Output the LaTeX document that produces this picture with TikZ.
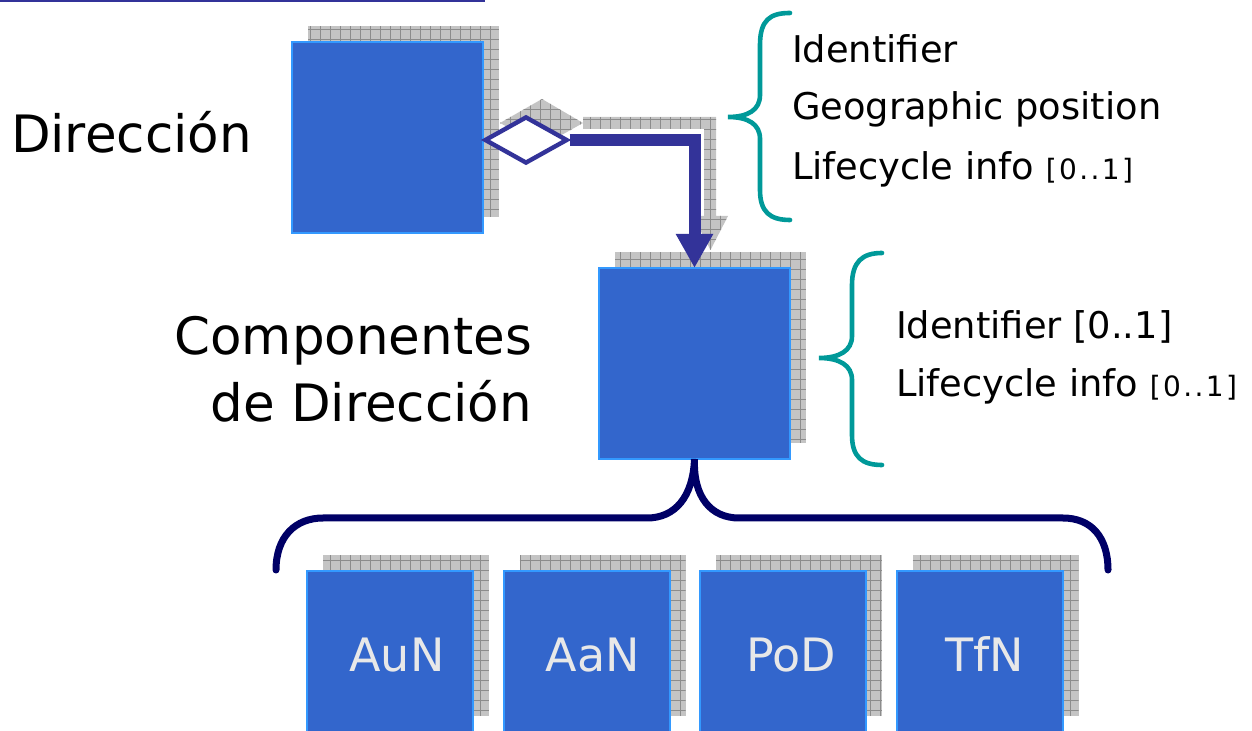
\documentclass[tikz,border=0pt]{standalone}
\usepackage{fontspec}
\setmainfont{DejaVu Sans}
\usetikzlibrary{arrows.meta,shapes.geometric,backgrounds}
\definecolor{boxfill}{HTML}{3366CC}
\definecolor{boxedge}{HTML}{3399FF}
\definecolor{arrowc}{HTML}{333399}
\definecolor{tealc}{HTML}{009999}
\definecolor{navyc}{HTML}{000066}
\definecolor{shgray}{HTML}{C4C4C4}
\definecolor{shline}{HTML}{8C8C8C}
\definecolor{lbltext}{HTML}{E8E8E8}
\newcommand\brk{\kern1.2pt}
\newcommand\smallrng{{\fontsize{14}{16}\selectfont[\brk0\brk.\brk.\brk1\brk]}}
\begin{document}
\begin{tikzpicture}[x=0.5pt,y=-0.5pt,
  bigbox/.style={draw=boxedge, fill=boxfill, line width=1pt, minimum width=95.5pt, minimum height=95.5pt, inner sep=0pt, outer sep=0pt},
  smallbox/.style={bigbox, minimum width=83pt, minimum height=80.5pt},
  shadowfill/.style={fill=shgray, path picture={\draw[shline, line width=0.5pt] (path picture bounding box.south west) grid[step=5pt] (path picture bounding box.north east);}},
  txt/.style={inner sep=0pt, outer sep=0pt, font=\fontsize{18.4}{22}\selectfont},
  bigtxt/.style={inner sep=0pt, outer sep=0pt, font=\fontsize{25.75}{33.5}\selectfont},
  boxtxt/.style={inner sep=0pt, outer sep=0pt, text=lbltext, font=\fontsize{23}{27}\selectfont},
  diamondnode/.style={shape=diamond, draw=arrowc, fill=white, line width=2.2pt, minimum width=41.5pt, minimum height=23.5pt, inner sep=0pt},
  conn/.style={draw=arrowc, line width=6pt, -{Triangle[width=17.5pt,length=17pt]}},
  tealbrace/.style={draw=tealc, line width=2.3pt, line cap=round},
  navybrace/.style={draw=navyc, line width=3.5pt, line cap=round},
  topline/.style={draw=arrowc, line width=1.2pt}
]
\useasboundingbox (0,0) rectangle (1252,731);
\clip (0,0) rectangle (1252,731);

\draw[topline] (0,1) -- (485,1);

% boxes
\node[bigbox] (dir) at (387.5,137.5) {};
\node[bigbox] (comp) at (694.5,363.5) {};
\node[smallbox] (aun) at (390,651.5) {};
\node[smallbox] (aan) at (586.5,651.5) {};
\node[smallbox] (pod) at (783,651.5) {};
\node[smallbox] (tfn) at (979.5,651.5) {};

% shadows
\begin{scope}[on background layer]
  \foreach \b in {dir,comp,aun,aan,pod,tfn}{
    \path[shadowfill] ([shift={(16,-16)}]\b.south west) rectangle ([shift={(16,-16)}]\b.north east);
  }
  \path[shadowfill] (500,123) -- (542,99) -- (583,123) -- (542,146) -- cycle;
  \path[shadowfill] (583,117) -- (716,117) -- (716,216) -- (728,216) -- (710.5,250) -- (693,216) -- (704,216) -- (704,129) -- (583,129) -- cycle;
\end{scope}

% aggregation diamond and arrow
\node[diamondnode] (diam) at (526,140) {};
\draw[conn] (diam.east) -| (comp.north);

% teal braces
\draw[tealbrace] (790,13) .. controls (770,13) and (760,20) .. (760,45) -- (760,95) .. controls (760,110) and (748,117) .. (728,117) .. controls (748,117) and (760,124) .. (760,139) -- (760,190) .. controls (760,212) and (770,220) .. (790,220);
\draw[tealbrace] (882,253) .. controls (862,253) and (852,262) .. (852,285) -- (852,336) .. controls (852,351) and (839,358) .. (819,358) .. controls (839,358) and (852,365) .. (852,380) -- (852,435) .. controls (852,457) and (862,465) .. (882,465);

% navy brace
\draw[navybrace] (276,570) .. controls (276,537) and (295,518) .. (323,518) -- (647,518) .. controls (675,518) and (693,497) .. (comp.south) .. controls (693,497) and (711,518) .. (739,518) -- (1063,518) .. controls (1091,518) and (1108,537) .. (1108,570);

% texts
\node[bigtxt, anchor=base west] (ldir) at (11,153) {Dirección};
\node[bigtxt, align=right, anchor=base east] (lcomp) at (532,422) {Componentes\\de Dirección};

\node[txt, anchor=base west] (t1) at (792,63) {Identifier};
\node[txt, anchor=base west] (t2) at (792,120) {Geographic position};
\node[txt, anchor=base west] (t3) at (792,180) {Lifecycle info \smallrng};
\node[txt, anchor=base west] (t4) at (896,339) {Identifier [0..1]};
\node[txt, anchor=base west] (t5) at (896,397) {Lifecycle info \smallrng};

\node[boxtxt, anchor=base] (laun) at (397,671) {AuN};
\node[boxtxt, anchor=base] (laan) at (593,671) {AaN};
\node[boxtxt, anchor=base] (lpod) at (791,671) {PoD};
\node[boxtxt, anchor=base] (ltfn) at (985,671) {TfN};
\end{tikzpicture}
\end{document}
